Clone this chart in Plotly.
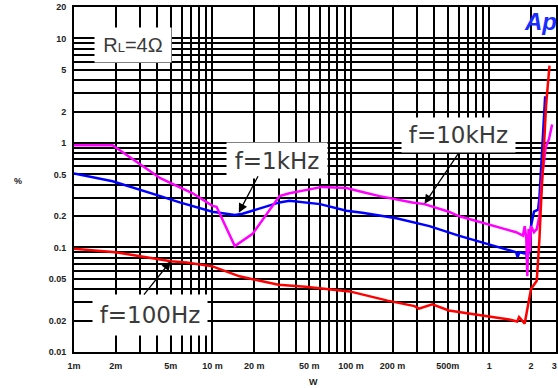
import numpy as np
import plotly.graph_objects as go

# ---- data (W, %) ----
x_100 = [0.001, 0.002, 0.005, 0.0065, 0.01, 0.0157, 0.022, 0.03, 0.047, 0.098, 0.184, 0.288, 0.31,
         0.387, 0.51, 1.0, 1.39, 1.59, 1.64, 1.8, 1.88, 2.0, 2.2, 2.3, 2.37, 2.5, 2.57, 2.72]
y_100 = [0.097, 0.09, 0.074, 0.072, 0.066, 0.053, 0.048, 0.044, 0.042, 0.038, 0.031, 0.0275, 0.026,
         0.0286, 0.025, 0.022, 0.0205, 0.0196, 0.0216, 0.0187, 0.026, 0.04, 0.048, 0.12, 0.29, 1.0, 2.3, 5.5]

x_1k = [0.001, 0.0019, 0.0042, 0.0058, 0.01, 0.0145, 0.0165, 0.0305, 0.036, 0.048, 0.06, 0.093, 0.121,
        0.213, 0.369, 0.6, 1.56, 1.6, 1.65, 1.85, 1.88, 1.92, 2.0, 2.1, 2.25, 2.3, 2.53]
y_1k = [0.51, 0.43, 0.31, 0.27, 0.22, 0.205, 0.21, 0.27, 0.28, 0.27, 0.26, 0.225, 0.215,
        0.19, 0.16, 0.13, 0.09, 0.081, 0.09, 0.087, 0.075, 0.09, 0.16, 0.22, 0.23, 0.3, 2.8]

x_10k = [0.001, 0.0019, 0.0042, 0.0072, 0.01, 0.0107, 0.0145, 0.0195, 0.0305, 0.036, 0.062, 0.093, 0.121,
         0.161, 0.278, 0.34, 0.51, 0.6, 1.56, 1.75, 1.8, 1.85, 1.88, 1.92, 1.96, 2.0, 2.1, 2.2, 2.3,
         2.4, 2.55, 2.7, 2.84]
y_10k = [0.95, 0.95, 0.46, 0.33, 0.25, 0.245, 0.103, 0.135, 0.31, 0.33, 0.38, 0.37, 0.34,
         0.31, 0.27, 0.26, 0.22, 0.2, 0.14, 0.13, 0.16, 0.12, 0.053, 0.15, 0.09, 0.16, 0.14, 0.15, 0.2,
         0.46, 0.9, 1.1, 1.5]

x_tick_vals = [0.001, 0.002, 0.005, 0.01, 0.02, 0.05, 0.1, 0.2, 0.5, 1, 2, 3]
x_tick_text = ["1m", "2m", "5m", "10 m", "20 m", "50 m", "100 m", "200 m", "500m", "1", "2",
               "3\u00a0"]
y_tick_vals = [0.01, 0.02, 0.05, 0.1, 0.2, 0.5, 1, 2, 5, 10, 20]
y_tick_text = ["0.01", "0.02", "0.05", "0.1", "0.2", "0.5", "1", "2", "5", "10", "20"]

# grid positions: 1..9 per decade
x_grid = sorted(set([m * 10.0 ** e for e in range(-3, 1) for m in range(1, 10)] + [1, 2, 3]))
y_grid = sorted(set([m * 10.0 ** e for e in range(-2, 2) for m in range(1, 10)] + [20]))

def tick_labels(grid, vals, texts):
    out = []
    for g in grid:
        lab = ""
        for v, t in zip(vals, texts):
            if abs(np.log10(g) - np.log10(v)) < 1e-6:
                lab = t
        out.append(lab)
    return out

W, H = 558, 388
ML, MR, MT, MB = 74, 2, 7, 36
PW, PH = W - ML - MR, H - MT - MB

def px(x):
    return (x - ML) / PW

def py(y):
    return (H - MB - y) / PH

fig = go.Figure()
for xs, ys, col in [(x_1k, y_1k, "#0000ff"), (x_10k, y_10k, "#ff00ff"), (x_100, y_100, "#ff0000")]:
    fig.add_trace(go.Scatter(x=xs, y=ys, mode="lines", line=dict(color=col, width=2.5),
                             showlegend=False, hoverinfo="skip"))

tickfont = dict(family="Liberation Sans", size=9, color="#222", weight="bold")
fig.update_xaxes(type="log", range=[np.log10(0.001), np.log10(3.03)], automargin=False,
                 tickmode="array", tickvals=x_grid, ticktext=tick_labels(x_grid, x_tick_vals, x_tick_text),
                 showgrid=True, gridcolor="black", gridwidth=1.5, ticks="",
                 showline=True, linecolor="black", linewidth=2, mirror=True,
                 tickfont=tickfont, zeroline=False, ticklabelstandoff=4, ticklabeloverflow="allow")
fig.update_yaxes(type="log", range=[np.log10(0.01), np.log10(20)], automargin=False,
                 tickmode="array", tickvals=y_grid, ticktext=tick_labels(y_grid, y_tick_vals, y_tick_text),
                 showgrid=True, gridcolor="black", gridwidth=1.5, ticks="",
                 showline=True, linecolor="black", linewidth=2, mirror=True,
                 tickfont=tickfont, zeroline=False, ticklabelstandoff=4, ticklabeloverflow="allow")

labfont = dict(family="DejaVu Sans", size=23, color="#3a3a3a")
anns = []
# white label boxes
def box(text, x0, x1, y0, y1, font):
    return dict(xref="paper", yref="paper", x=px((x0 + x1) / 2), y=py((y0 + y1) / 2),
                xanchor="center", yanchor="middle", text=text, showarrow=False,
                bgcolor="white", width=x1 - x0, height=y1 - y0, borderpad=0, font=font)

anns.append(box("R<span style='font-size:13px'>L</span>=4Ω", 95, 171, 28, 62,
                dict(family="Liberation Sans", size=20, color="#3a3a3a")))
anns.append(box("f=100Hz", 93, 207, 295, 335, labfont))
anns.append(box("f=1kHz", 227, 327, 143, 178, labfont))
anns.append(box("f=10kHz", 402, 515, 118, 152, labfont))

# arrows
for hx, hy, axp, ayp in [(0.005, 0.074, -28, 35), (0.0155, 0.215, 20, -38), (0.34, 0.262, 35, -52)]:
    anns.append(dict(x=np.log10(hx), y=np.log10(hy), xref="x", yref="y", ax=axp, ay=ayp,
                     text="", showarrow=True, arrowhead=2, arrowsize=1.4, arrowwidth=1.3,
                     arrowcolor="black", standoff=0))

# axis titles and logo
small = dict(family="Liberation Sans", size=9, color="#222", weight="bold")
anns.append(dict(xref="paper", yref="paper", x=px(18), y=py(181), text="%", showarrow=False,
                 xanchor="center", yanchor="middle", font=small))
anns.append(dict(xref="paper", yref="paper", x=px(313), y=py(382), text="W", showarrow=False,
                 xanchor="center", yanchor="middle", font=small))
anns.append(dict(xref="paper", yref="paper", x=px(540), y=py(22), text="<b><i>Ap</i></b>", showarrow=False,
                 xanchor="center", yanchor="middle",
                 font=dict(family="Liberation Sans", size=24, color="#1a2cff")))

fig.update_layout(width=W, height=H, margin=dict(l=ML, r=MR, t=MT, b=MB, autoexpand=False),
                  paper_bgcolor="white", plot_bgcolor="white", annotations=anns)

fig.write_html("out.html", config={"displayModeBar": False},
               post_script="document.body.style.margin='0px';document.body.style.padding='0px';"
                           "document.documentElement.style.overflow='hidden';")
